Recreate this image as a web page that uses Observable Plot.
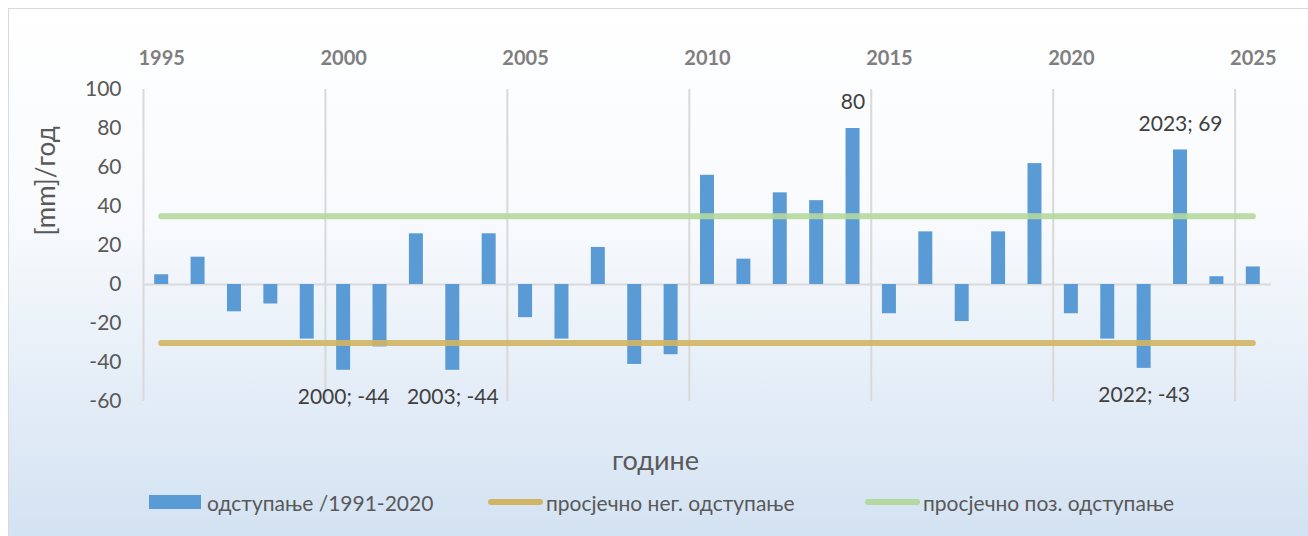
<!DOCTYPE html>
<html>
<head>
<meta charset="utf-8">
<script src="https://cdn.jsdelivr.net/npm/d3@7"></script>
<script src="https://cdn.jsdelivr.net/npm/@observablehq/plot@0.6"></script>
<style>
  html, body { margin: 0; padding: 0; background: #ffffff; }
  body { width: 1308px; height: 536px; position: relative; overflow: hidden; font-family: Lato, "Noto Sans", sans-serif; }
  #box {
    position: absolute; left: 8px; top: 8px; width: 1300px; height: 528px;
    border-left: 1px solid #d9d9d9; border-top: 1px solid #d9d9d9;
    background: linear-gradient(to bottom, #ffffff 0%, #f8fafd 40%, #d3e2f2 100%);
  }
  #chart { position: absolute; left: 0; top: 0; }
  .leg { position: absolute; top: 478px; height: 30px; display: flex; align-items: center; color: #595959; font-size: 21px; white-space: nowrap; }
  .sw-rect { width: 52px; height: 14px; background: #5b9bd5; margin-right: 6px; }
  .sw-line { width: 55px; height: 6px; border-radius: 3px; margin-right: 3px; }
</style>
</head>
<body>
<div id="box">
  <div id="chart"></div>
  <div class="leg" style="left:140px"><div class="sw-rect"></div><span id="l1"></span></div>
  <div class="leg" style="left:479px"><div class="sw-line" style="background:#d2b563"></div><span id="l2"></span></div>
  <div class="leg" style="left:856px"><div class="sw-line" style="background:#b4d89d"></div><span id="l3"></span></div>
</div>
<script>
// ---- data ----
const years = [1995,1996,1997,1998,1999,2000,2001,2002,2003,2004,2005,2006,2007,2008,2009,2010,
               2011,2012,2013,2014,2015,2016,2017,2018,2019,2020,2021,2022,2023,2024,2025];
const deviation = [5,14,-14,-10,-28,-44,-32,26,-44,26,-17,-28,19,-41,-36,56,
                   13,47,43,80,-15,27,-19,27,62,-15,-28,-43,69,4,9];
const avgNegative = -30;
const avgPositive = 35;
const xTicks = [1995,2000,2005,2010,2015,2020,2025];
const yTicks = [-60,-40,-20,0,20,40,60,80,100];
const labelYears = [2000, 2003, 2014, 2022, 2023];
const labelTexts = ["2000; -44", "2003; -44", "80", "2022; -43", "2023; 69"];
const seriesNames = ["одступање /1991-2020", "просјечно нег. одступање", "просјечно поз. одступање"];
const yTitle = "[mm]/год";
const xTitle = "године";

document.getElementById("l1").textContent = seriesNames[0];
document.getElementById("l2").textContent = seriesNames[1];
document.getElementById("l3").textContent = seriesNames[2];

const data = years.map((y, i) => ({year: y, value: deviation[i]}));
const labels = labelYears.map((y, i) => ({year: y, value: deviation[years.indexOf(y)], text: labelTexts[i]}));
const labelsUp = labels.filter(d => d.value >= 0);
const labelsDown = labels.filter(d => d.value < 0);

const W = 1300, H = 470;
const mL = 134, mR = 38, mT = 80, mB = 78;
const half = (W - mL - mR) / (years.length) / 2;

const chart = Plot.plot({
  width: W, height: H,
  marginLeft: mL, marginRight: mR, marginTop: mT, marginBottom: mB,
  style: {background: "transparent", fontFamily: "Lato, 'Noto Sans', sans-serif", overflow: "visible"},
  x: {domain: [years[0], years[years.length - 1] + 1]},
  y: {domain: [-60, 100]},
  marks: [
    Plot.ruleX(xTicks, {y1: -60, y2: 100, stroke: "#d9d9d9", strokeWidth: 2}),
    Plot.ruleY([0], {stroke: "#d9d9d9", strokeWidth: 2}),
    Plot.rectY(data, {x: "year", y: "value", interval: 1, insetLeft: 11.2, insetRight: 11.2, fill: "#5b9bd5"}),
    Plot.ruleY([avgNegative], {x1: years[0], x2: years[years.length - 1], dx: half, stroke: "#d2b563", strokeWidth: 6, strokeLinecap: "round", strokeOpacity: 0.9}),
    Plot.ruleY([avgPositive], {x1: years[0], x2: years[years.length - 1], dx: half, stroke: "#b4d89d", strokeWidth: 6, strokeLinecap: "round", strokeOpacity: 0.9}),
    Plot.axisX({anchor: "top", ticks: xTicks, tickSize: 0, tickPadding: 25, dx: half, tickFormat: d => String(d),
                fontSize: 20, fontWeight: "bold", fill: "#7f7f7f", label: null}),
    Plot.axisY({ticks: yTicks, tickSize: 0, tickPadding: 22, tickFormat: d => String(d), fontSize: 21, fill: "#595959", label: null}),
    Plot.text(labelsUp, {x: "year", y: "value", text: "text", dx: half, dy: -26, fontSize: 21, fill: "#404040"}),
    Plot.text(labelsDown, {x: "year", y: "value", text: "text", dx: half, dy: 27, fontSize: 21, fill: "#404040"}),
    Plot.text([yTitle], {frameAnchor: "left", dx: -97, dy: -10, rotate: -90, fontSize: 26, fill: "#595959"}),
    Plot.text([xTitle], {frameAnchor: "bottom", dx: -52, dy: 68, fontSize: 27, fill: "#595959"})
  ]
});
document.getElementById("chart").appendChild(chart);
</script>
</body>
</html>
